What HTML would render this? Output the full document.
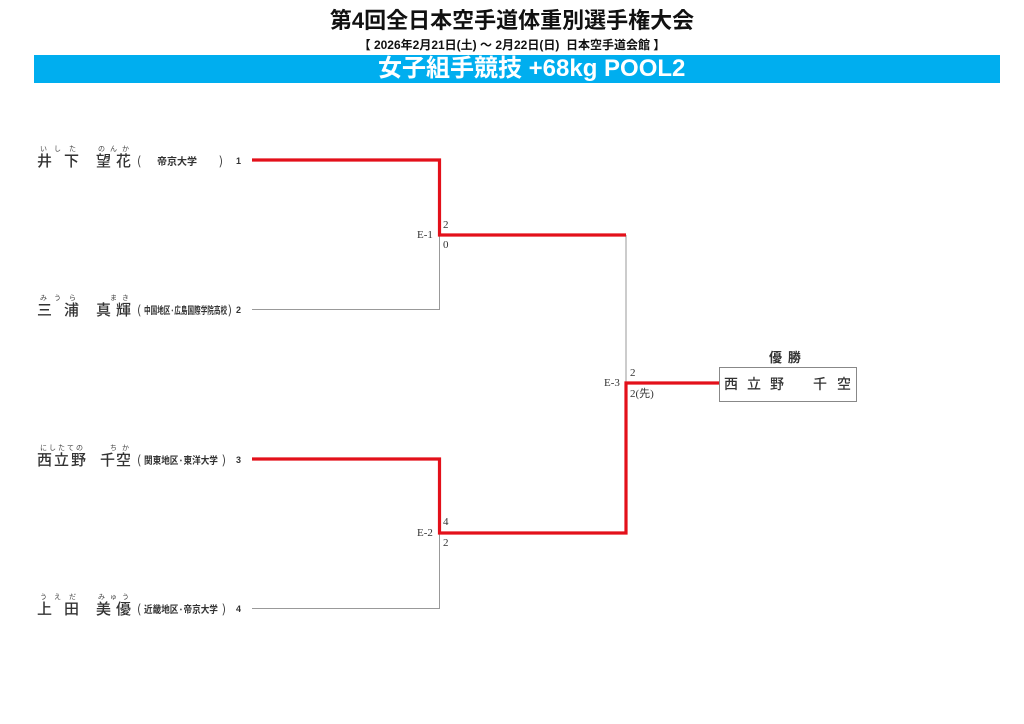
<!DOCTYPE html>
<html><head><meta charset="utf-8">
<style>
html,body{margin:0;padding:0;background:#fff;}
body{width:1024px;height:724px;position:relative;overflow:hidden;font-family:"Liberation Sans","Noto Sans CJK JP",sans-serif;color:#222;}
.a{position:absolute;white-space:nowrap;line-height:1;}
.nm{font-size:15px;font-family:"Noto Sans CJK JP",sans-serif;font-weight:500;color:#333;}
.fu{font-size:7px;font-family:"Noto Sans CJK JP",sans-serif;color:#444;}
.af{font-size:10px;font-family:"Noto Sans CJK JP",sans-serif;font-weight:700;color:#333;transform-origin:0 50%;}
.pn{font-size:12px;font-family:"Noto Sans CJK JP",sans-serif;color:#333;}
.no{font-size:9px;font-family:"Liberation Sans",sans-serif;font-weight:700;color:#333;}
.sc{font-size:11px;font-family:"Liberation Serif",serif;color:#333;}
</style></head><body>

<div class="a" style="left:0;width:1024px;text-align:center;top:10px;font-size:22px;font-weight:700;font-family:'Liberation Sans','Noto Sans CJK JP',sans-serif;color:#111;">第4回全日本空手道体重別選手権大会</div>
<div class="a" style="left:0;width:1024px;text-align:center;top:39px;font-size:12px;font-weight:700;font-family:'Liberation Sans','Noto Sans CJK JP',sans-serif;color:#111;">【 2026年2月21日(土) ～ 2月22日(日)&nbsp; 日本空手道会館 】</div>
<div style="position:absolute;left:34px;top:55px;width:966px;height:28px;background:#00aeef;"></div>
<div class="a" style="left:378px;top:57px;font-size:24px;font-weight:700;color:#fff;font-family:'Liberation Sans','Noto Sans CJK JP',sans-serif;">女子組手競技 +68kg POOL2</div>

<svg style="position:absolute;left:0;top:0" width="1024" height="724">
<g fill="none" stroke="#999" stroke-width="1">
<polyline points="252,309.5 439.5,309.5 439.5,235"/>
<polyline points="252,608.5 439.5,608.5 439.5,533"/>
<line x1="626" y1="235" x2="626" y2="383"/>
</g>
<g fill="none" stroke="#e3101a" stroke-width="3.2" stroke-linejoin="miter">
<polyline points="252,160 439.5,160 439.5,235 626,235"/>
<polyline points="252,459 439.5,459 439.5,533 626,533 626,383 720,383"/>
</g>
<rect x="719.5" y="367.5" width="137" height="34" fill="none" stroke="#888" stroke-width="1"/>
</svg>

<!-- Row 1 -->
<div class="a fu" style="left:40px;top:146px;">い</div>
<div class="a fu" style="left:54px;top:146px;">し</div>
<div class="a fu" style="left:69px;top:146px;">た</div>
<div class="a fu" style="left:98px;top:146px;">の</div>
<div class="a fu" style="left:110px;top:146px;">ん</div>
<div class="a fu" style="left:122px;top:146px;">か</div>
<div class="a nm" style="left:37px;top:153px;">井</div>
<div class="a nm" style="left:64px;top:153px;">下</div>
<div class="a nm" style="left:96px;top:153px;">望</div>
<div class="a nm" style="left:116px;top:153px;">花</div>
<div class="a pn" style="left:137px;top:155px;">(</div>
<div class="a af" style="left:157px;top:156px;">帝京大学</div>
<div class="a pn" style="left:219px;top:155px;">)</div>
<div class="a no" style="left:236px;top:157px;">1</div>

<!-- Row 2 -->
<div class="a fu" style="left:40px;top:295px;">み</div>
<div class="a fu" style="left:54px;top:295px;">う</div>
<div class="a fu" style="left:69px;top:295px;">ら</div>
<div class="a fu" style="left:110px;top:295px;">ま</div>
<div class="a fu" style="left:122px;top:295px;">き</div>
<div class="a nm" style="left:37px;top:302px;">三</div>
<div class="a nm" style="left:64px;top:302px;">浦</div>
<div class="a nm" style="left:96px;top:302px;">真</div>
<div class="a nm" style="left:116px;top:302px;">輝</div>
<div class="a pn" style="left:137px;top:304px;">(</div>
<div class="a af" style="left:144px;top:305px;transform:scaleX(0.66);">中国地区·広島国際学院高校</div>
<div class="a pn" style="left:228px;top:304px;">)</div>
<div class="a no" style="left:236px;top:306px;">2</div>

<!-- Row 3 -->
<div class="a fu" style="left:40px;top:445px;">に</div>
<div class="a fu" style="left:49px;top:445px;">し</div>
<div class="a fu" style="left:58px;top:445px;">た</div>
<div class="a fu" style="left:67px;top:445px;">て</div>
<div class="a fu" style="left:76px;top:445px;">の</div>
<div class="a fu" style="left:110px;top:445px;">ち</div>
<div class="a fu" style="left:122px;top:445px;">か</div>
<div class="a nm" style="left:37px;top:452px;">西</div>
<div class="a nm" style="left:54px;top:452px;">立</div>
<div class="a nm" style="left:71px;top:452px;">野</div>
<div class="a nm" style="left:100px;top:452px;">千</div>
<div class="a nm" style="left:116px;top:452px;">空</div>
<div class="a pn" style="left:137px;top:454px;">(</div>
<div class="a af" style="left:144px;top:455px;transform:scaleX(0.86);">関東地区·東洋大学</div>
<div class="a pn" style="left:222px;top:454px;">)</div>
<div class="a no" style="left:236px;top:456px;">3</div>

<!-- Row 4 -->
<div class="a fu" style="left:40px;top:594px;">う</div>
<div class="a fu" style="left:54px;top:594px;">え</div>
<div class="a fu" style="left:69px;top:594px;">だ</div>
<div class="a fu" style="left:98px;top:594px;">み</div>
<div class="a fu" style="left:110px;top:594px;">ゅ</div>
<div class="a fu" style="left:122px;top:594px;">う</div>
<div class="a nm" style="left:37px;top:601px;">上</div>
<div class="a nm" style="left:64px;top:601px;">田</div>
<div class="a nm" style="left:96px;top:601px;">美</div>
<div class="a nm" style="left:116px;top:601px;">優</div>
<div class="a pn" style="left:137px;top:603px;">(</div>
<div class="a af" style="left:144px;top:604px;transform:scaleX(0.86);">近畿地区·帝京大学</div>
<div class="a pn" style="left:222px;top:603px;">)</div>
<div class="a no" style="left:236px;top:605px;">4</div>

<!-- Scores -->
<div class="a sc" style="left:417px;top:230px;">E-1</div>
<div class="a sc" style="left:443px;top:220px;">2</div>
<div class="a sc" style="left:443px;top:240px;">0</div>

<div class="a sc" style="left:417px;top:528px;">E-2</div>
<div class="a sc" style="left:443px;top:517px;">4</div>
<div class="a sc" style="left:443px;top:538px;">2</div>

<div class="a sc" style="left:604px;top:378px;">E-3</div>
<div class="a sc" style="left:630px;top:368px;">2</div>
<div class="a sc" style="left:630px;top:389px;font-family:'Liberation Serif','Noto Sans CJK JP',serif;">2(先)</div>

<!-- Winner -->
<div class="a" style="left:769px;top:350px;font-size:13px;font-weight:700;font-family:'Noto Sans CJK JP',sans-serif;color:#333;">優&nbsp;&nbsp;勝</div>
<div class="a nm" style="left:724px;top:377px;font-size:14px;">西</div>
<div class="a nm" style="left:747px;top:377px;font-size:14px;">立</div>
<div class="a nm" style="left:770px;top:377px;font-size:14px;">野</div>
<div class="a nm" style="left:813px;top:377px;font-size:14px;">千</div>
<div class="a nm" style="left:837px;top:377px;font-size:14px;">空</div>

</body></html>
